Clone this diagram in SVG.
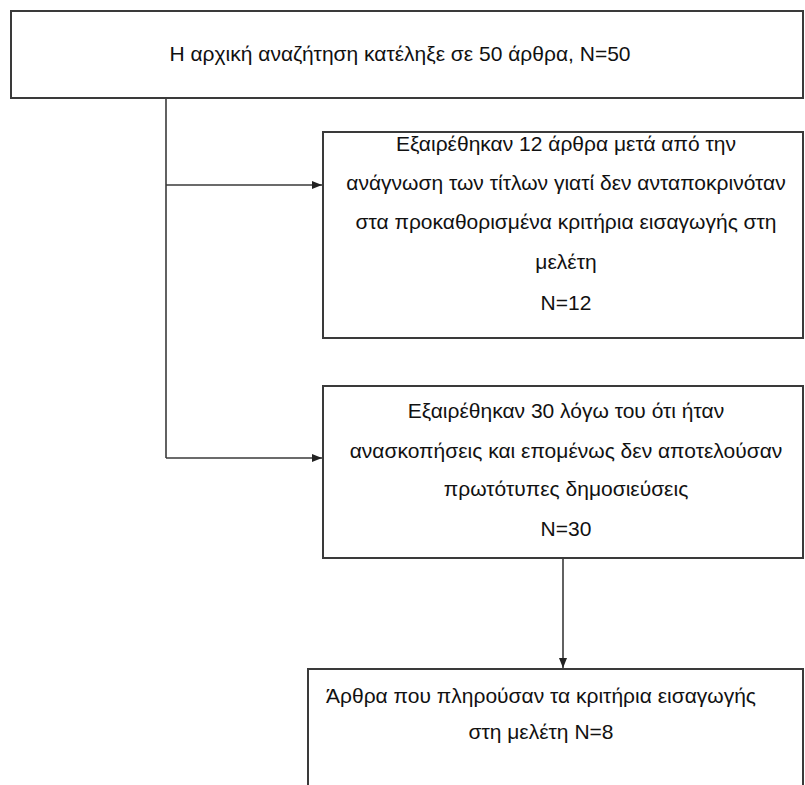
<svg xmlns="http://www.w3.org/2000/svg" width="805" height="785" viewBox="0 0 805 785">
<style>
.box{fill:#ffffff;stroke:#3a3a3a;stroke-width:2}
.t{font-family:"Liberation Sans",Arial,sans-serif;font-size:21px;fill:#111;text-anchor:middle}
.c{fill:none;stroke:#3a3a3a;stroke-width:1.6}
</style>
<defs>
<marker id="ah" viewBox="0 0 10 10" refX="10" refY="5" markerWidth="10" markerHeight="10" markerUnits="userSpaceOnUse" orient="auto">
<path d="M0,1 L10,5 L0,9 z" fill="#222"/>
</marker>
</defs>
<rect width="805" height="785" fill="#ffffff"/>
<g id="connectors">
<path class="c" d="M166,98 V458"/>
<path class="c" d="M166,185 H322" marker-end="url(#ah)"/>
<path class="c" d="M166,458 H322" marker-end="url(#ah)"/>
<path class="c" d="M563,558 V668" marker-end="url(#ah)"/>
</g>
<g id="n1">
<rect class="box" x="11" y="11" width="792" height="87"/>
<text class="t" x="400" y="61">Η αρχική αναζήτηση κατέληξε σε 50 άρθρα, N=50</text>
</g>
<g id="n2">
<rect class="box" x="323" y="132" width="480" height="206"/>
<text class="t" x="566" y="151">Εξαιρέθηκαν 12 άρθρα μετά από την</text>
<text class="t" x="566" y="190">ανάγνωση των τίτλων γιατί δεν ανταποκρινόταν</text>
<text class="t" x="566" y="229">στα προκαθορισμένα κριτήρια εισαγωγής στη</text>
<text class="t" x="566" y="269">μελέτη</text>
<text class="t" x="566" y="310">N=12</text>
</g>
<g id="n3">
<rect class="box" x="323" y="386" width="480" height="172"/>
<text class="t" x="566" y="418">Εξαιρέθηκαν 30 λόγω του ότι ήταν</text>
<text class="t" x="566" y="458">ανασκοπήσεις και επομένως δεν αποτελούσαν</text>
<text class="t" x="566" y="496">πρωτότυπες δημοσιεύσεις</text>
<text class="t" x="566" y="536">N=30</text>
</g>
<g id="n4">
<rect class="box" x="308" y="669" width="495" height="130"/>
<text class="t" x="541" y="703">Άρθρα που πληρούσαν τα κριτήρια εισαγωγής</text>
<text class="t" x="541" y="739">στη μελέτη N=8</text>
</g>
</svg>
